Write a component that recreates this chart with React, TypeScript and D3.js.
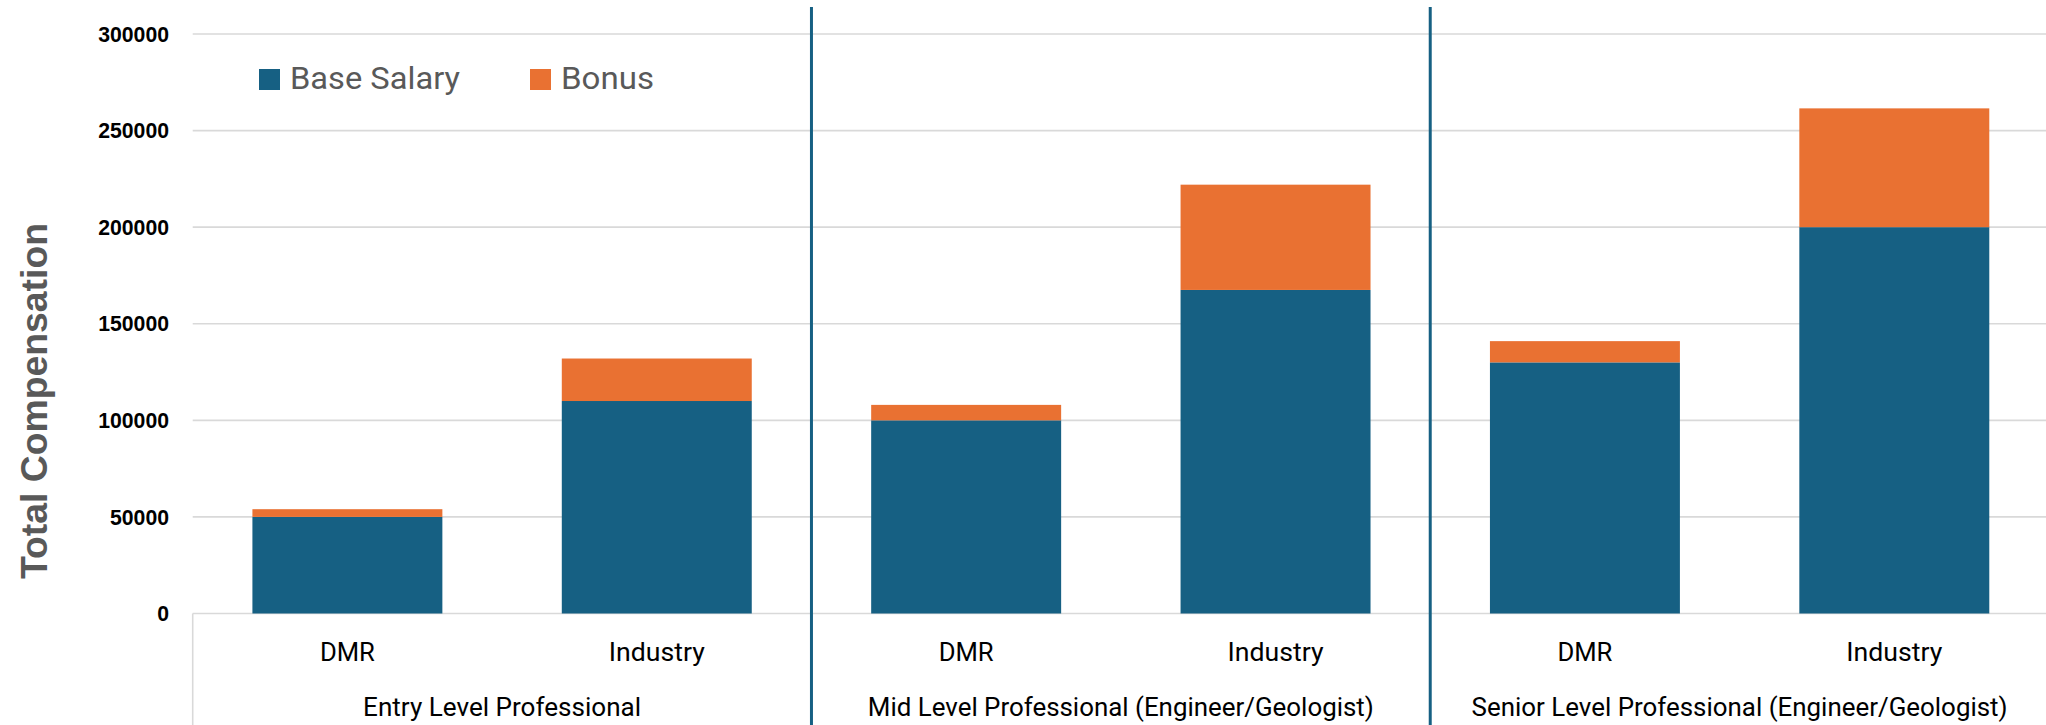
import React from "react";
import * as d3 from "d3";

const groups = [
  "Entry Level Professional",
  "Mid Level Professional (Engineer/Geologist)",
  "Senior Level Professional (Engineer/Geologist)",
];
const subCategories = ["DMR", "Industry"];
const baseSalary = [50000, 110000, 100000, 167500, 130000, 200000];
const bonus = [4000, 22000, 8000, 54500, 11000, 61500];
const yTicks = [0, 50000, 100000, 150000, 200000, 250000, 300000];
const seriesNames = ["Base Salary", "Bonus"];
const seriesColors = ["#166083", "#E97132"];

const W = 2046;
const H = 725;

// target text widths (px) for narrow-looking font
const groupLabelWidths = [278, 506, 536];
const subLabelWidths: Record<string, number> = { DMR: 55, Industry: 96 };

export default function App() {
  const rows = groups.flatMap((g, gi) =>
    subCategories.map((s, si) => ({
      key: `${gi}-${s}`,
      group: g,
      sub: s,
      base: baseSalary[gi * 2 + si],
      bonus: bonus[gi * 2 + si],
    }))
  );

  const x = d3
    .scaleBand<string>()
    .domain(rows.map((r) => r.key))
    .range([192.7, 2049])
    .paddingInner(0.386)
    .paddingOuter(0.193);

  const y = d3.scaleLinear().domain([0, 300000]).range([613.5, 34]);

  const stack = d3.stack<any>().keys(["base", "bonus"]);
  const stacked = stack(rows as any);

  const step = x.step();
  const groupStart = (gi: number) => x.range()[0] + gi * 2 * step;
  const groupEnd = (gi: number) => x.range()[0] + (gi + 1) * 2 * step;

  const narrow = "'Liberation Sans Narrow', 'Roboto', 'Liberation Sans', sans-serif";

  return (
    <svg
      width={W}
      height={H}
      style={{ position: "absolute", left: 0, top: 0, background: "#fff" }}
    >
      <rect x={0} y={0} width={W} height={H} fill="#ffffff" />
      {/* gridlines */}
      {yTicks.map((t) => (
        <line
          key={t}
          x1={192.7}
          x2={W}
          y1={y(t)}
          y2={y(t)}
          stroke="#D9D9D9"
          strokeWidth={1.6}
        />
      ))}
      {/* y tick labels */}
      {yTicks.map((t) => {
        const label = String(t);
        return (
          <text
            key={"l" + t}
            x={169}
            y={y(t)}
            dy="0.36em"
            textAnchor="end"
            fontFamily="'Liberation Sans', Arial, sans-serif"
            fontWeight="bold"
            fontSize={21.5}
            fill="#000"
            textLength={label.length * 11.8}
            lengthAdjust="spacingAndGlyphs"
          >
            {label}
          </text>
        );
      })}
      {/* y axis title */}
      <text
        transform={`translate(47, 401) rotate(-90)`}
        textAnchor="middle"
        fontFamily="'Liberation Sans', Arial, sans-serif"
        fontWeight="bold"
        fontSize={37}
        fill="#595959"
        textLength={356}
        lengthAdjust="spacingAndGlyphs"
      >
        Total Compensation
      </text>
      {/* bars */}
      {stacked.map((layer, li) =>
        layer.map((d: any, i: number) => (
          <rect
            key={`${li}-${i}`}
            x={x(rows[i].key)}
            y={y(d[1])}
            width={x.bandwidth()}
            height={y(d[0]) - y(d[1])}
            fill={seriesColors[li]}
          />
        ))
      )}
      {/* category axis lines */}
      <line x1={192.7} x2={192.7} y1={y(0)} y2={H} stroke="#D9D9D9" strokeWidth={1.6} />
      {/* group dividers */}
      {groups.slice(1).map((g, gi) => (
        <line
          key={"div" + gi}
          x1={groupStart(gi + 1)}
          x2={groupStart(gi + 1)}
          y1={7}
          y2={H}
          stroke="#166083"
          strokeWidth={3}
        />
      ))}
      {/* sub-category labels */}
      {rows.map((r) => (
        <text
          key={"s" + r.key}
          x={(x(r.key) as number) + x.bandwidth() / 2}
          y={661}
          textAnchor="middle"
          fontFamily={narrow}
          fontSize={25.5}
          fill="#000"
          textLength={subLabelWidths[r.sub]}
          lengthAdjust="spacingAndGlyphs"
        >
          {r.sub}
        </text>
      ))}
      {/* group labels */}
      {groups.map((g, gi) => (
        <text
          key={"g" + gi}
          x={(groupStart(gi) + groupEnd(gi)) / 2}
          y={716}
          textAnchor="middle"
          fontFamily={narrow}
          fontSize={25.5}
          fill="#000"
          textLength={groupLabelWidths[gi]}
          lengthAdjust="spacingAndGlyphs"
        >
          {g}
        </text>
      ))}
      {/* legend */}
      {seriesNames.map((n, i) => {
        const lx = [259, 530][i];
        const tw = [170, 93][i];
        return (
          <g key={"leg" + i}>
            <rect x={lx} y={69} width={21} height={21} fill={seriesColors[i]} />
            <text
              x={lx + 31}
              y={89}
              fontFamily={narrow}
              fontSize={31}
              fill="#595959"
              textLength={tw}
              lengthAdjust="spacingAndGlyphs"
            >
              {n}
            </text>
          </g>
        );
      })}
    </svg>
  );
}
